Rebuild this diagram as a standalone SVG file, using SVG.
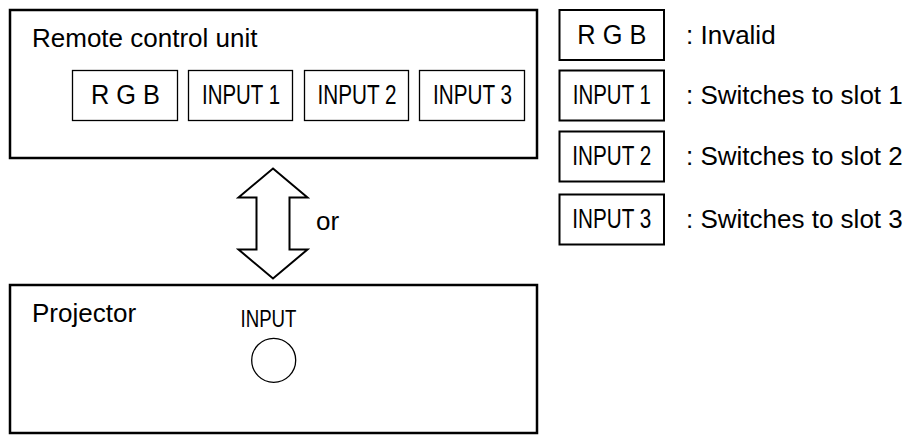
<svg xmlns="http://www.w3.org/2000/svg" width="908" height="436" viewBox="0 0 908 436">
<style>
text{font-family:"Liberation Sans",Arial,Helvetica,sans-serif;fill:#000;}
.lbl{font-size:26px;}
.btn{font-size:27px;text-anchor:middle;}
.outer{fill:#fff;stroke:#000;stroke-width:2.5;}
.key{fill:#fff;stroke:#000;stroke-width:1.3;}
.leg{fill:#fff;stroke:#000;stroke-width:2;}
</style>
<rect width="908" height="436" fill="#fff"/>
<g id="remote">
<rect class="outer" x="10" y="10" width="527" height="148"/>
<text class="lbl" x="32" y="47">Remote control unit</text>
<g id="remote-rgb"><rect class="key" x="72.5" y="70.5" width="105" height="50"/><text class="btn" x="125.5" y="104.3" textLength="69" lengthAdjust="spacingAndGlyphs">R G B</text></g>
<g id="remote-input1"><rect class="key" x="188.5" y="70.5" width="104" height="50"/><text class="btn" x="241" y="104.3" textLength="78" lengthAdjust="spacingAndGlyphs">INPUT 1</text></g>
<g id="remote-input2"><rect class="key" x="304.5" y="70.5" width="104" height="50"/><text class="btn" x="357" y="104.3" textLength="79" lengthAdjust="spacingAndGlyphs">INPUT 2</text></g>
<g id="remote-input3"><rect class="key" x="419.5" y="70.5" width="105" height="50"/><text class="btn" x="472.5" y="104.3" textLength="79" lengthAdjust="spacingAndGlyphs">INPUT 3</text></g>
</g>
<g id="projector">
<rect class="outer" x="10" y="285" width="527" height="148"/>
<text class="lbl" x="32" y="322">Projector</text>
<text class="btn" x="268.5" y="327.3" style="font-size:24px" textLength="56" lengthAdjust="spacingAndGlyphs">INPUT</text>
<circle cx="273.7" cy="360.3" r="22" fill="#fff" stroke="#000" stroke-width="1.3"/>
</g>
<g id="connectors">
<polygon points="273,168.5 307.5,197.5 289.5,197.5 289.5,249.5 307.5,249.5 273,278.5 238.5,249.5 256.5,249.5 256.5,197.5 238.5,197.5" fill="#fff" stroke="#000" stroke-width="2" stroke-linejoin="miter"/>
<text class="lbl" x="316" y="230">or</text>
</g>
<g id="legend-rgb"><rect class="leg" x="559.5" y="10" width="104.5" height="50"/><text class="btn" x="611.8" y="43.5" textLength="69" lengthAdjust="spacingAndGlyphs">R G B</text><text class="lbl" x="686" y="43.5">: Invalid</text></g>
<g id="legend-input1"><rect class="leg" x="559.5" y="70.5" width="104.5" height="50"/><text class="btn" x="611.8" y="104" textLength="78" lengthAdjust="spacingAndGlyphs">INPUT 1</text><text class="lbl" x="686" y="104">: Switches to slot 1</text></g>
<g id="legend-input2"><rect class="leg" x="559.5" y="131.5" width="104.5" height="50"/><text class="btn" x="611.8" y="165" textLength="79" lengthAdjust="spacingAndGlyphs">INPUT 2</text><text class="lbl" x="686" y="165">: Switches to slot 2</text></g>
<g id="legend-input3"><rect class="leg" x="559.5" y="194.5" width="104.5" height="50"/><text class="btn" x="611.8" y="228" textLength="79" lengthAdjust="spacingAndGlyphs">INPUT 3</text><text class="lbl" x="686" y="228">: Switches to slot 3</text></g>
</svg>
